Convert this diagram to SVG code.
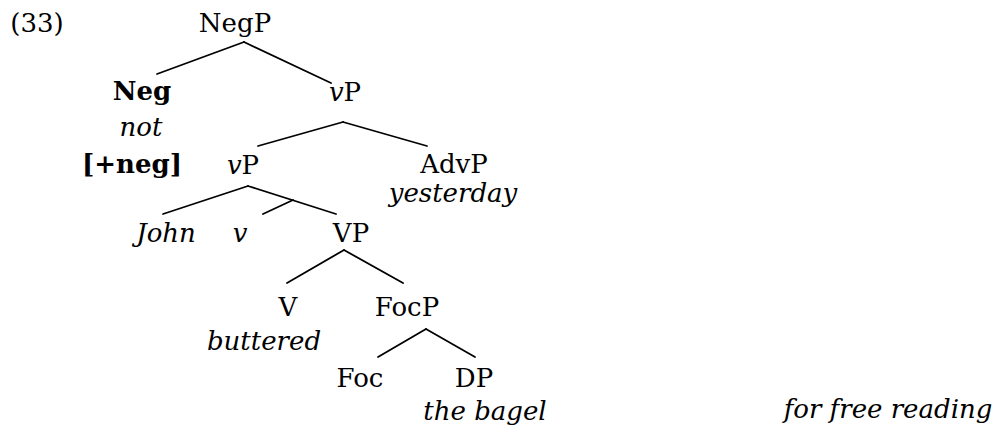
<svg xmlns="http://www.w3.org/2000/svg" width="1005" height="429" viewBox="0 0 1005 429">
<style>
text{font-family:"DejaVu Serif","Liberation Serif",serif;font-size:26px;fill:#000;text-anchor:middle}
.i{font-style:italic}
.b{font-weight:bold}
.e line{stroke:#000;stroke-width:1.8;stroke-linecap:round}
</style>
<rect width="1005" height="429" fill="#fff"/>
<text x="37" y="32">(33)</text>
<g id="NegP"><text x="235" y="32">NegP</text></g>
<g id="Neg"><text class="b" x="142" y="100">Neg</text><text class="i" x="141" y="136">not</text><text class="b" x="132" y="173">[+neg]</text></g>
<g id="vP1"><text x="345" y="101"><tspan class="i">v</tspan>P</text></g>
<g id="vP2"><text x="243" y="174"><tspan class="i">v</tspan>P</text></g>
<g id="AdvP"><text x="454" y="173">AdvP</text><text class="i" x="453" y="202">yesterday</text></g>
<g id="John"><text class="i" x="166" y="242">John</text></g>
<g id="v"><text class="i" x="240" y="242">v</text></g>
<g id="VP"><text x="351" y="242">VP</text></g>
<g id="V"><text x="288" y="316">V</text><text class="i" x="264" y="350">buttered</text></g>
<g id="FocP"><text x="407" y="316">FocP</text></g>
<g id="Foc"><text x="360" y="387">Foc</text></g>
<g id="DP"><text x="474" y="387">DP</text><text class="i" x="485" y="420">the bagel</text></g>
<text class="i" x="888" y="418">for free reading</text>
<g id="edges" class="e">
<line x1="244" y1="42" x2="157" y2="74"/>
<line x1="244" y1="42" x2="331" y2="83"/>
<line x1="343" y1="122" x2="258" y2="146"/>
<line x1="343" y1="122" x2="427" y2="146"/>
<line x1="248" y1="186" x2="163" y2="214"/>
<line x1="248" y1="186" x2="336" y2="214"/>
<line x1="293" y1="200" x2="263" y2="214"/>
<line x1="344" y1="250" x2="287" y2="283"/>
<line x1="344" y1="250" x2="403" y2="283"/>
<line x1="426" y1="329" x2="378" y2="357"/>
<line x1="426" y1="329" x2="475" y2="357"/>
</g>
</svg>
